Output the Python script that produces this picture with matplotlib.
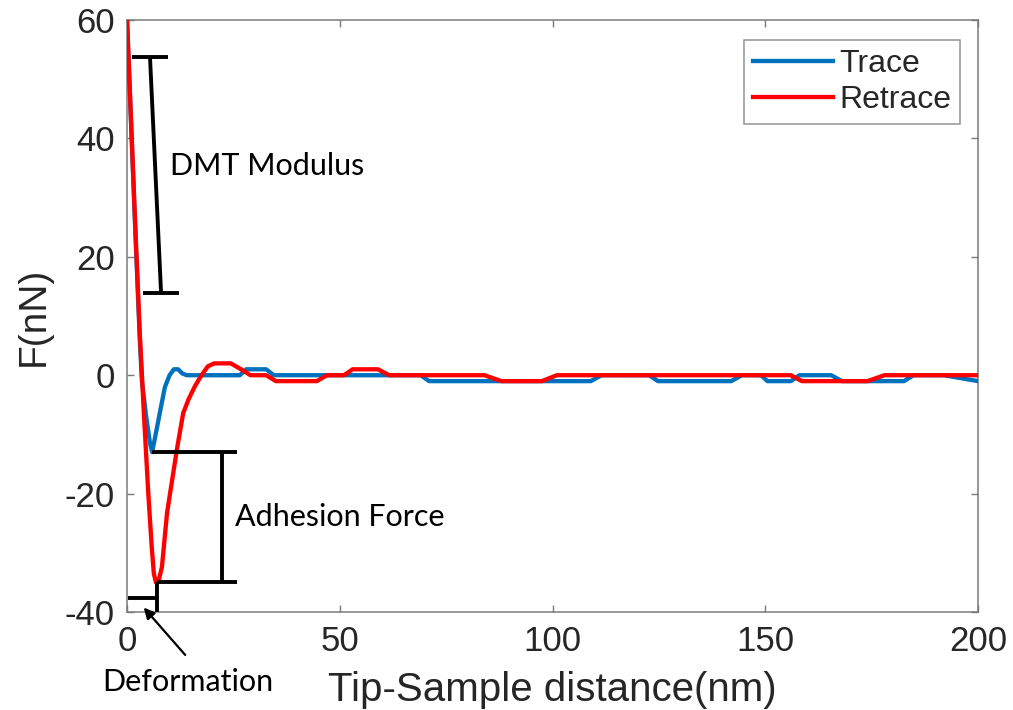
import matplotlib
matplotlib.use("Agg")
import matplotlib.pyplot as plt

plt.rcParams["axes.unicode_minus"] = False

# force curves, tip-sample distance (nm) vs force (nN)
trace_x = [0, 1, 2, 3, 3.5, 4.5, 5.4, 5.9, 7, 7.8, 8.9, 10, 11, 12, 13, 14,
           26.5, 28, 32.7, 34.5, 69, 71, 109, 111.5, 122.7, 124.8, 142, 144.5,
           149, 150.5, 156, 158, 165.5, 168, 182.6, 184.8, 192, 200]
trace_F = [60, 41.5, 23.5, 6, -1, -7, -11.5, -13, -9, -6, -2, 0, 1, 1, 0.3, 0,
           0, 1, 1, 0, 0, -1, -1, 0, 0, -1, -1, 0,
           0, -1, -1, 0, 0, -1, -1, 0, 0, -1]

retrace_x = [0, 1, 2, 3, 4, 5, 5.8, 6.3, 6.8, 7.5, 8.2, 9.4, 10.6, 11.8, 13.2,
             14.5, 16, 17.5, 19, 20.5, 24.4, 26.8, 29, 32.7, 35, 44.6, 47, 51,
             53, 59, 61.6, 84, 88, 97.5, 101, 156, 158.6, 174, 178, 200]
retrace_F = [60, 42, 24, 7, -7, -20, -29, -33.5, -35, -34.5, -32.4, -23.3, -17.7,
             -12.2, -6.4, -4, -1.8, 0, 1.5, 2, 2, 1, 0, 0, -1, -1, 0, 0,
             1, 1, 0, 0, -1, -1, 0, 0, -1, -1, 0, 0]

x_ticks = [0, 50, 100, 150, 200]
y_ticks = [-40, -20, 0, 20, 40, 60]

axis_font = "Liberation Sans"
note_font = "Lato"
frame_gray = "#7a7a7a"
text_gray = "#262626"

fig = plt.figure(figsize=(10.13, 7.10), dpi=100)
ax = fig.add_axes([0.1254, 0.1380, 0.8401, 0.8338])

ax.plot(trace_x, trace_F, color="#0072BD", lw=3.1, label="Trace", zorder=3)
ax.plot(retrace_x, retrace_F, color="#FF0000", lw=3.1, label="Retrace", zorder=4)

ax.set_xlim(0, 200)
ax.set_ylim(-40, 60)
ax.set_xticks(x_ticks)
ax.set_yticks(y_ticks)
ax.tick_params(direction="in", length=5, width=1, color=frame_gray,
               top=True, right=True, labelsize=25, labelcolor=text_gray, pad=9)
for lab in ax.get_xticklabels() + ax.get_yticklabels():
    lab.set_family(axis_font)
for sp in ax.spines.values():
    sp.set_color(frame_gray)
    sp.set_linewidth(1.1)

ax.set_xlabel("Tip-Sample distance(nm)", fontsize=29, family=axis_font, color=text_gray)
ax.set_ylabel("F(nN)", fontsize=28, family=axis_font, color=text_gray)
ax.xaxis.set_label_coords(0.5, -0.10)
ax.yaxis.set_label_coords(-0.088, 0.5)

leg = ax.legend(loc="upper right", bbox_to_anchor=(0.979, 0.966), fancybox=False,
                prop={"family": axis_font, "size": 23}, handlelength=2.5,
                handletextpad=0.2, borderpad=0.28, labelspacing=0.2,
                borderaxespad=0)
leg.get_frame().set_edgecolor(frame_gray)
leg.get_frame().set_linewidth(1.1)
for t in leg.get_texts():
    t.set_color(text_gray)

bk = dict(color="black", lw=2.8, solid_capstyle="butt", zorder=5)

# DMT modulus bracket
ax.plot([1.2, 9.6], [53.7, 53.7], **bk)
ax.plot([5.4, 8.0], [53.7, 13.9], **bk)
ax.plot([3.8, 12.1], [13.9, 13.9], **bk)
ax.text(10.1, 35.4, "DMT Modulus", family=note_font, fontsize=22, va="center", ha="left")

# adhesion bracket between the two minima
top = min(trace_F)
bottom = min(retrace_F)
ax.plot([5.9, 25.9], [top, top], **bk)
ax.plot([22.3, 22.3], [top, bottom], **bk)
ax.plot([7.0, 25.9], [bottom, bottom], **bk)
ax.text(25.4, -24, "Adhesion Force", family=note_font, fontsize=22, va="center", ha="left")

# deformation marker
ax.plot([0.2, 7.0], [-37.7, -37.7], clip_on=False, **bk)
ax.plot([7.0, 7.0], [bottom, -40], clip_on=False, **bk)
ax.annotate("", xy=(3.5, -38.9), xytext=(14.1, -47.6), annotation_clip=False,
            arrowprops=dict(arrowstyle="-|>", color="black", lw=1.6, mutation_scale=16))
ax.text(14.3, -51.8, "Deformation", family=note_font, fontsize=22, va="center",
        ha="center", clip_on=False)

fig.savefig("out.png", dpi=100)
